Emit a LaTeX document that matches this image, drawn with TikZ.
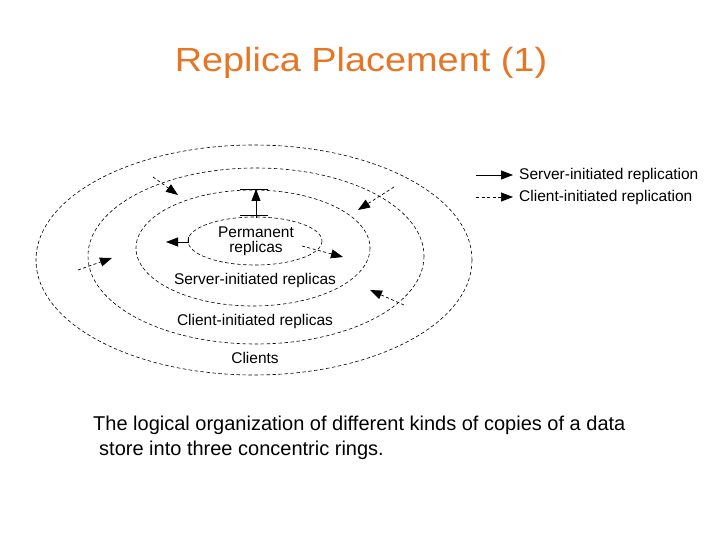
\documentclass[tikz,border=0pt]{standalone}
\usepackage{fontspec}
\setmainfont{Liberation Sans}
\usetikzlibrary{arrows.meta}
\definecolor{titleorange}{RGB}{230,118,38}
\tikzset{
  ring/.style={draw, line width=0.6pt, dash pattern=on 3.5pt off 2.5pt},
  solidarr/.style={draw, line width=0.8pt, -{Triangle[length=12pt,width=9pt]}},
  dasharr/.style={draw, line width=0.7pt, dash pattern=on 3pt off 2.5pt, -{Triangle[length=12pt,width=9pt]}},
  lbl/.style={font=\fontsize{15.5}{17}\selectfont, inner sep=0pt},
  captext/.style={font=\fontsize{20}{25}\selectfont, inner sep=0pt, anchor=base west},
}
\begin{document}
\begin{tikzpicture}[x=1pt,y=-1pt]
\useasboundingbox (0,0) rectangle (720,540);
\node[text=titleorange, inner sep=0pt, anchor=base] (title) at (361,72)
  {\scalebox{1.13}[1]{\fontsize{33.5}{36}\selectfont Replica Placement (1)}};
% rings
\draw[ring] (254,260) ellipse [x radius=218, y radius=115];
\draw[ring] (256,256) ellipse [x radius=168, y radius=88];
\draw[ring] (253,248) ellipse [x radius=117, y radius=58];
\draw[ring] (255,241) ellipse [x radius=67, y radius=24];
% labels
\node[lbl, align=center] (perm) at (256,241) {Permanent\\[-2pt]replicas};
\node[lbl] (srv) at (255,280) {Server-initiated replicas};
\node[lbl] (cli) at (255,321) {Client-initiated replicas};
\node[lbl] (clients) at (255,358) {Clients};
% coordinates for arrows
\coordinate (a1s) at (256,218);
\coordinate (a1e) at (256,189);
\coordinate (a2s) at (188,237);
\coordinate (a2m) at (188,242);
\coordinate (a2e) at (166,242);
\coordinate (a3s) at (302,246);
\coordinate (a3e) at (343,257);
\coordinate (a4s) at (153,177);
\coordinate (a4e) at (178,195);
\coordinate (a5s) at (394,187);
\coordinate (a5e) at (358,210);
\coordinate (a6s) at (78,270);
\coordinate (a6e) at (112,258);
\coordinate (a7s) at (404,305);
\coordinate (a7e) at (370,290);
\draw[solidarr] (a1s) -- (a1e);
\draw[line width=0.8pt] (240,189) -- (268,189);
\draw[line width=0.8pt] (240,215) -- (268,215);
\draw[solidarr] (a2s) -- (a2m) -- (a2e);
\draw[dasharr] (a3s) -- (a3e);
\draw[dasharr] (a4s) -- (a4e);
\draw[dasharr] (a5s) -- (a5e);
\draw[dasharr] (a6s) -- (a6e);
\draw[dasharr] (a7s) -- (a7e);
% legend
\coordinate (l1s) at (476,175);
\coordinate (l1e) at (513,175);
\coordinate (l2s) at (476,197);
\coordinate (l2e) at (513,197);
\draw[solidarr] (l1s) -- (l1e);
\draw[dasharr] (l2s) -- (l2e);
\node[lbl, anchor=west] (leg1) at (519,175) {Server-initiated replication};
\node[lbl, anchor=west] (leg2) at (519,197) {Client-initiated replication};
% caption
\node[captext] (cap1) at (93,430) {The logical organization of different kinds of copies of a data};
\node[captext] (cap2) at (99,455) {store into three concentric rings.};
\end{tikzpicture}
\end{document}
